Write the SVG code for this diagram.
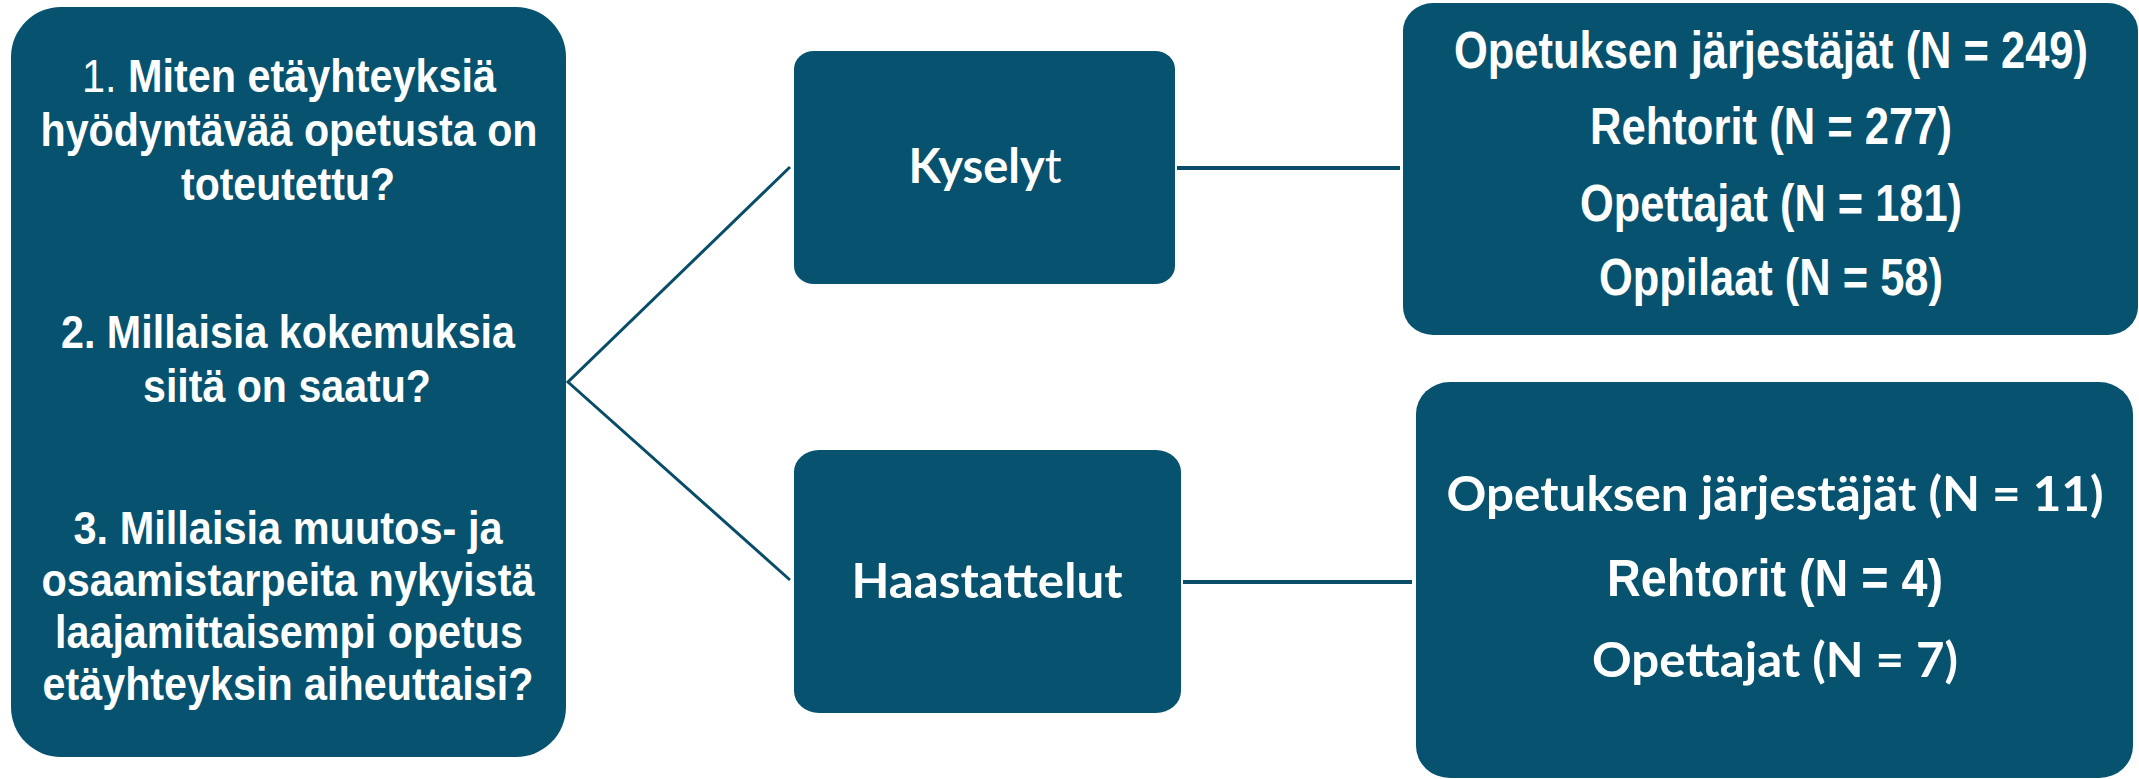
<svg xmlns="http://www.w3.org/2000/svg" width="2139" height="779" viewBox="0 0 2139 779">
<style>
.box{fill:#07526E}
.conn{stroke:#0A4D69;fill:none}
.t{fill:#FFFFFF;font-family:"Liberation Sans Narrow","Liberation Sans",Arial,sans-serif;font-weight:bold;text-anchor:middle}
.c{fill:#FFFFFF;font-family:Lato,"Open Sans",sans-serif;font-weight:bold;text-anchor:middle}
</style>
<rect width="2139" height="779" fill="#FFFFFF"/>
<g id="connectors">
<polyline class="conn" stroke-width="3" points="790,167 568,382 790,580"/>
<line class="conn" stroke-width="4" x1="1177" y1="168" x2="1400" y2="168"/>
<line class="conn" stroke-width="4" x1="1183" y1="582" x2="1412" y2="582"/>
</g>
<g id="questions">
<rect class="box" x="11" y="7" width="555" height="750" rx="50" ry="50"/>
<text class="t" font-size="47" x="289" y="92" textLength="414" lengthAdjust="spacingAndGlyphs"><tspan font-weight="normal">1.</tspan> Miten etäyhteyksiä</text>
<text class="t" font-size="47" x="289" y="146" textLength="497" lengthAdjust="spacingAndGlyphs">hyödyntävää opetusta on</text>
<text class="t" font-size="47" x="288" y="200" textLength="214" lengthAdjust="spacingAndGlyphs">toteutettu?</text>
<text class="t" font-size="47" x="288" y="348" textLength="454" lengthAdjust="spacingAndGlyphs">2. Millaisia kokemuksia</text>
<text class="t" font-size="47" x="287" y="402" textLength="288" lengthAdjust="spacingAndGlyphs">siitä on saatu?</text>
<text class="t" font-size="47" x="288" y="544" textLength="429" lengthAdjust="spacingAndGlyphs">3. Millaisia muutos- ja</text>
<text class="t" font-size="47" x="288" y="596" textLength="493" lengthAdjust="spacingAndGlyphs">osaamistarpeita nykyistä</text>
<text class="t" font-size="47" x="289" y="648" textLength="468" lengthAdjust="spacingAndGlyphs">laajamittaisempi opetus</text>
<text class="t" font-size="47" x="288" y="700" textLength="491" lengthAdjust="spacingAndGlyphs">etäyhteyksin aiheuttaisi?</text>
</g>
<g id="kyselyt">
<rect class="box" x="794" y="51" width="381" height="233" rx="20" ry="18"/>
<text class="c" font-size="48" x="985" y="183" textLength="153" lengthAdjust="spacingAndGlyphs">Kysely<tspan font-weight="normal">t</tspan></text>
</g>
<g id="haastattelut">
<rect class="box" x="794" y="450" width="387" height="263" rx="25" ry="22"/>
<text class="c" font-size="48" x="987" y="598" textLength="271" lengthAdjust="spacingAndGlyphs">Haastattelut</text>
</g>
<g id="kysely-groups">
<rect class="box" x="1403" y="3" width="735" height="332" rx="30" ry="28"/>
<text class="t" font-size="52" x="1771" y="68" textLength="634" lengthAdjust="spacingAndGlyphs">Opetuksen järjestäjät (N = 249)</text>
<text class="t" font-size="52" x="1771" y="144" textLength="362" lengthAdjust="spacingAndGlyphs">Rehtorit (N = 277)</text>
<text class="t" font-size="52" x="1771" y="221" textLength="382" lengthAdjust="spacingAndGlyphs">Opettajat (N = 181)</text>
<text class="t" font-size="52" x="1771" y="295" textLength="344" lengthAdjust="spacingAndGlyphs">Oppilaat (N = 58)</text>
</g>
<g id="haastattelu-groups">
<rect class="box" x="1416" y="382" width="717" height="396" rx="34" ry="32"/>
<text class="c" font-size="47" x="1775" y="511" textLength="657" lengthAdjust="spacingAndGlyphs">Opetuksen järjestäjät (N = 11)</text>
<text class="t" font-size="51" x="1775" y="596" textLength="336" lengthAdjust="spacingAndGlyphs">Rehtorit (N = 4)</text>
<text class="c" font-size="47" x="1775" y="677" textLength="366" lengthAdjust="spacingAndGlyphs">Opettajat (N = 7)</text>
</g>
</svg>
